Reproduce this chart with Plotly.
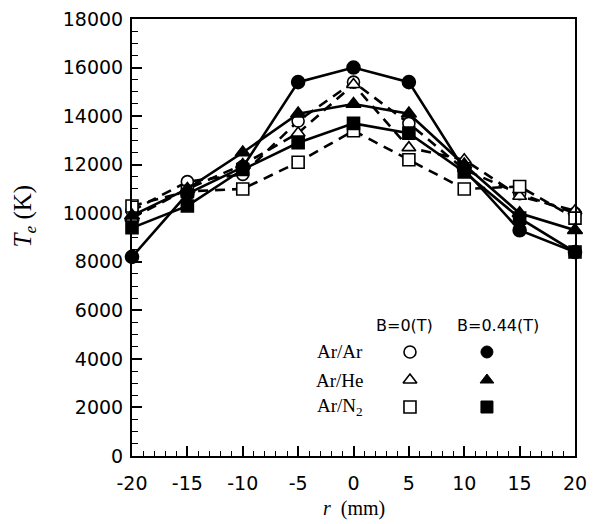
import plotly.graph_objects as go

r_mm = [-20, -15, -10, -5, 0, 5, 10, 15, 20]

# B = 0.44 T (filled markers, solid lines)
arar_b044 = [8200, 10800, 11900, 15400, 16000, 15400, 11800, 9300, 8400]
arhe_b044 = [9900, 11000, 12500, 14100, 14500, 14100, 12000, 10000, 9300]
arn2_b044 = [9400, 10300, 11800, 12900, 13700, 13300, 11700, 9800, 8400]

# B = 0 T (open markers, dashed lines)
arar_b0 = [10100, 11300, 11600, 13800, 15400, 13700, 11800, 10800, 10000]
arhe_b0 = [9800, 11000, 12000, 13300, 15300, 12700, 12200, 10700, 10100]
arn2_b0 = [10300, 10900, 11000, 12100, 13400, 12200, 11000, 11100, 9800]

gas_labels = ["Ar/Ar", "Ar/He", "Ar/N<sub>2</sub>"]
field_labels = ["B=0(T)", "B=0.44(T)"]
y_ticks = [0, 2000, 4000, 6000, 8000, 10000, 12000, 14000, 16000, 18000]
y_ticktext = ["0", "2000", "4000", "6000", "8000", "10000", "12000", "14000", "16000", "18000"]
x_ticks = [-20, -15, -10, -5, 0, 5, 10, 15, 20]
x_ticktext = ["-20", "-15", "-10", "-5", "0", "5", "10", "15", "20"]

fig = go.Figure()

series = [
    (arar_b0, "circle", "dash", 12, "white"),
    (arhe_b0, "triangle-up", "dash", 12, "white"),
    (arn2_b0, "square", "dash", 12, "white"),
    (arar_b044, "circle", "solid", 13, "black"),
    (arhe_b044, "triangle-up", "solid", 13, "black"),
    (arn2_b044, "square", "solid", 12, "black"),
]
for vals, sym, dash, size, fill in series:
    fig.add_trace(go.Scatter(
        x=r_mm, y=vals, mode="lines+markers",
        line=dict(color="black", width=2.6, dash="10px,7px" if dash == "dash" else "solid"),
        marker=dict(symbol=sym, size=size, color=fill,
                    line=dict(color="black", width=1.6)),
        showlegend=False, cliponaxis=False,
    ))

# legend block drawn inside the axes
leg_x_text = 1.0
leg_x_open = 5.1
leg_x_fill = 12.05
leg_y = [4284, 3130, 2018]
leg_syms = ["circle", "triangle-up", "square"]
fig.add_trace(go.Scatter(x=[leg_x_open] * 3, y=leg_y, mode="markers",
                         marker=dict(symbol=leg_syms, size=12, color="white",
                                     line=dict(color="black", width=1.6)),
                         showlegend=False))
fig.add_trace(go.Scatter(x=[leg_x_fill] * 3, y=leg_y, mode="markers",
                         marker=dict(symbol=leg_syms, size=12, color="black",
                                     line=dict(color="black", width=1)),
                         showlegend=False))
for lab, yy in zip(gas_labels, leg_y):
    fig.add_annotation(x=leg_x_text, y=yy, text=lab, showarrow=False, xanchor="right",
                       font=dict(family="Liberation Serif", size=19, color="black"))
for lab, xx in zip(field_labels, [4.56, 13.05]):
    fig.add_annotation(x=xx, y=5396, text=lab, showarrow=False, xanchor="center",
                       font=dict(family="DejaVu Sans", size=16, color="black"))

# axis titles
fig.add_annotation(xref="paper", yref="paper", x=-0.242, y=0.55, text="<i>T<sub>e</sub></i> (K)",
                   textangle=-90, showarrow=False, xanchor="center", yanchor="middle",
                   font=dict(family="Liberation Serif", size=25, color="black"))
fig.add_annotation(xref="paper", yref="paper", x=0.5, y=-0.119, text="<i>r</i>  (mm)",
                   showarrow=False, xanchor="center", yanchor="middle",
                   font=dict(family="Liberation Serif", size=20, color="black"))

axis_font = dict(family="DejaVu Sans", size=19, color="black")
fig.update_xaxes(
    range=[-20, 20], tickvals=x_ticks, ticktext=x_ticktext, ticks="inside", ticklen=10, tickwidth=1.5,
    minor=dict(ticks="inside", dtick=1, ticklen=5, tickwidth=1.2, tickcolor="black"),
    showline=True, linecolor="black", linewidth=2, mirror=True, showgrid=False,
    zeroline=False, tickfont=axis_font, tickcolor="black", ticklabelstandoff=9,
    automargin=False, ticklabeloverflow="allow",
)
fig.update_yaxes(
    range=[0, 18000], tickvals=y_ticks, ticktext=y_ticktext, ticks="inside", ticklen=10, tickwidth=1.5,
    minor=dict(ticks="inside", dtick=500, ticklen=6, tickwidth=1.2, tickcolor="black"),
    showline=True, linecolor="black", linewidth=2, mirror=True, showgrid=False,
    zeroline=False, tickfont=axis_font, tickcolor="black", ticklabelstandoff=3,
    automargin=False, ticklabeloverflow="allow",
)
# page body has an 8px default margin, so the figure is shrunk and shifted to match
fig.update_layout(
    width=595, height=516,
    margin=dict(l=124, r=28, t=11, b=68),
    plot_bgcolor="white", paper_bgcolor="white",
)
fig.write_html("out.html")
